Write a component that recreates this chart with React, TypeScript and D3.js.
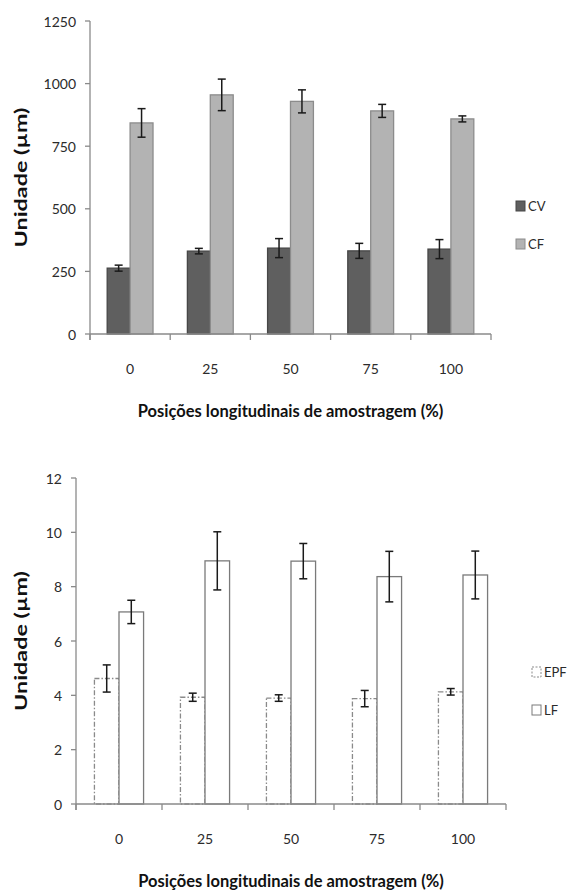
import * as d3 from "d3";

const positions = ["0", "25", "50", "75", "100"];

const cvMean = [263, 331, 343, 332, 339];
const cvErr = [12, 11, 38, 30, 38];
const cfMean = [843, 955, 929, 891, 859];
const cfErr = [57, 63, 46, 26, 12];

const epfMean = [4.62, 3.93, 3.9, 3.88, 4.13];
const epfErr = [0.5, 0.15, 0.12, 0.3, 0.12];
const lfMean = [7.07, 8.95, 8.94, 8.37, 8.43];
const lfErr = [0.43, 1.07, 0.65, 0.93, 0.88];

const topTicks = [0, 250, 500, 750, 1000, 1250];
const bottomTicks = [0, 2, 4, 6, 8, 10, 12];

const axisColor = "#8a8a8a";
const textColor = "#2b2b2b";
const font = "Lato, 'Open Sans', sans-serif";
const xTitle = "Posições longitudinais de amostragem (%)";

type Series = {
  name: string;
  mean: number[];
  err: number[];
  fill: string;
  stroke: string;
  dash?: string;
};

type ChartProps = {
  left: number;
  right: number;
  top: number;
  bottom: number;
  ticks: number[];
  series: Series[];
  legendX: number;
  legendY: number;
};

function Chart({ left, right, top, bottom, ticks, series, legendX, legendY }: ChartProps) {
  const yMax = d3.max(ticks) as number;
  const y = d3.scaleLinear().domain([0, yMax]).range([bottom, top]);
  const x = d3.scaleBand().domain(positions).range([left, right]);
  const bw = x.bandwidth();
  // excel style gap width 150%
  const barW = bw / 3.5;
  const off = (bw - barW * series.length) / 2;
  const inner = d3
    .scaleBand()
    .domain(series.map((s) => s.name))
    .range([off, off + barW * series.length]);

  const bars = series.map((s) =>
    positions.map((p, i) => {
      const bx = (x(p) as number) + (inner(s.name) as number);
      const cx = bx + barW / 2;
      const yv = y(s.mean[i]);
      const yHi = y(s.mean[i] + s.err[i]);
      const yLo = y(s.mean[i] - s.err[i]);
      return (
        <g key={s.name + p}>
          <rect
            x={bx}
            y={yv}
            width={barW}
            height={bottom - yv}
            fill={s.fill}
            stroke={s.stroke}
            strokeWidth={1.3}
            strokeDasharray={s.dash}
          />
          <line x1={cx} x2={cx} y1={yHi} y2={yLo} stroke="#1a1a1a" strokeWidth={1.5} />
          <line x1={cx - 4} x2={cx + 4} y1={yHi} y2={yHi} stroke="#1a1a1a" strokeWidth={1.5} />
          <line x1={cx - 4} x2={cx + 4} y1={yLo} y2={yLo} stroke="#1a1a1a" strokeWidth={1.5} />
        </g>
      );
    })
  );

  const boundaries = [...positions.map((p) => x(p) as number), right];

  return (
    <g>
      {bars}
      {/* y axis */}
      <line x1={left} x2={left} y1={top} y2={bottom + 6} stroke={axisColor} strokeWidth={1.3} />
      {ticks.map((t) => (
        <g key={t}>
          <line x1={left - 5} x2={left} y1={y(t)} y2={y(t)} stroke={axisColor} strokeWidth={1.3} />
          <text
            x={left - 14}
            y={y(t)}
            textAnchor="end"
            dominantBaseline="central"
            fontSize={14}
            fontFamily={font}
            fill={textColor}
          >
            {t}
          </text>
        </g>
      ))}
      {/* x axis */}
      <line x1={left} x2={right} y1={bottom} y2={bottom} stroke={axisColor} strokeWidth={1.3} />
      {boundaries.map((b, i) => (
        <line key={i} x1={b} x2={b} y1={bottom} y2={bottom + 6} stroke={axisColor} strokeWidth={1.3} />
      ))}
      {positions.map((p) => (
        <text
          key={p}
          x={(x(p) as number) + bw / 2}
          y={bottom + 34}
          textAnchor="middle"
          dominantBaseline="central"
          fontSize={14}
          fontFamily={font}
          fill={textColor}
        >
          {p}
        </text>
      ))}
      <text
        x={(left + right) / 2}
        y={bottom + 83}
        textAnchor="middle"
        fontSize={16.5}
        fontWeight="bold"
        fontFamily={font}
        fill="#111"
      >
        {xTitle}
      </text>
      <text
        transform={`translate(20,${(top + bottom) / 2}) rotate(-90)`}
        textAnchor="middle"
        dominantBaseline="central"
        fontSize={17}
        fontWeight="bold"
        fontFamily={font}
        fill="#111"
        textLength={140}
        lengthAdjust="spacingAndGlyphs"
      >
        Unidade (µm)
      </text>
      {/* legend */}
      {series.map((s, i) => (
        <g key={s.name} transform={`translate(${legendX},${legendY + i * 38})`}>
          <rect
            x={0}
            y={-5}
            width={9}
            height={10}
            fill={s.fill}
            stroke={s.stroke}
            strokeWidth={1}
            strokeDasharray={s.dash ? "2,1.5" : undefined}
          />
          <text x={12} y={0} dominantBaseline="central" fontSize={13} fontFamily={font} fill={textColor}>
            {s.name}
          </text>
        </g>
      ))}
    </g>
  );
}

export default function App() {
  const topSeries: Series[] = [
    { name: "CV", mean: cvMean, err: cvErr, fill: "#5f5f5f", stroke: "#474747" },
    { name: "CF", mean: cfMean, err: cfErr, fill: "#b3b3b3", stroke: "#8c8c8c" },
  ];
  const bottomSeries: Series[] = [
    { name: "EPF", mean: epfMean, err: epfErr, fill: "#ffffff", stroke: "#8a8a8a", dash: "5,2,1.5,2" },
    { name: "LF", mean: lfMean, err: lfErr, fill: "#ffffff", stroke: "#7a7a7a" },
  ];
  return (
    <svg
      width={571}
      height={890}
      style={{ position: "absolute", left: 0, top: 0, background: "#fff" }}
    >
      <rect width={571} height={890} fill="#fff" />
      <Chart
        left={90}
        right={491}
        top={21}
        bottom={334}
        ticks={topTicks}
        series={topSeries}
        legendX={516}
        legendY={206}
      />
      <Chart
        left={76}
        right={506}
        top={478}
        bottom={804}
        ticks={bottomTicks}
        series={bottomSeries}
        legendX={532}
        legendY={672}
      />
    </svg>
  );
}
